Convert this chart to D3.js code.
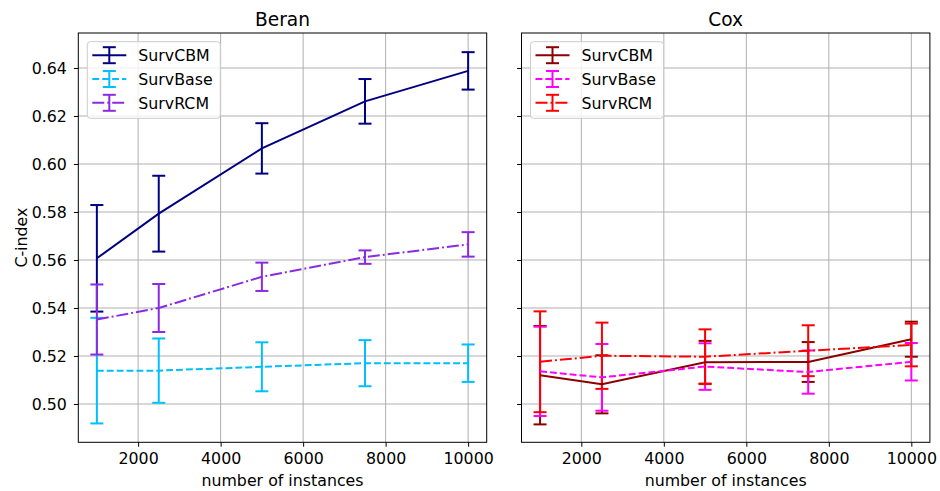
<!DOCTYPE html>
<html>
<head>
<meta charset="utf-8">
<script src="https://cdn.jsdelivr.net/npm/d3@7"></script>
<style>
  html, body { margin: 0; padding: 0; background: #fff; }
  svg { display: block; font-family: "DejaVu Sans", sans-serif; }
</style>
</head>
<body>
<svg id="chart" width="940" height="491"></svg>
<script>
// ---------- data ----------
const sizes = [1000, 2500, 5000, 7500, 10000];
const seriesNames = ["SurvCBM", "SurvBase", "SurvRCM"];
const panelTitles = ["Beran", "Cox"];

const beranCBM     = [0.5607, 0.5793, 0.6065, 0.6261, 0.6388];
const beranCBMErr  = [0.0222, 0.0158, 0.0105, 0.0093, 0.0078];
const beranBase    = [0.5139, 0.5139, 0.5155, 0.5170, 0.5170];
const beranBaseErr = [0.0220, 0.0134, 0.0102, 0.0096, 0.0078];
const beranRCM     = [0.5352, 0.5400, 0.5530, 0.5612, 0.5665];
const beranRCMErr  = [0.0146, 0.0100, 0.0059, 0.0028, 0.0051];

const coxCBM       = [0.5120, 0.5082, 0.5174, 0.5175, 0.5270];
const coxCBMErr    = [0.0205, 0.0121, 0.0089, 0.0083, 0.0073];
const coxBase      = [0.5136, 0.5111, 0.5156, 0.5133, 0.5176];
const coxBaseErr   = [0.0186, 0.0139, 0.0097, 0.0090, 0.0078];
const coxRCM       = [0.5176, 0.5201, 0.5197, 0.5222, 0.5246];
const coxRCMErr    = [0.0210, 0.0138, 0.0114, 0.0106, 0.0089];

const xTicks = [2000, 4000, 6000, 8000, 10000];
const yTicks = [0.50, 0.52, 0.54, 0.56, 0.58, 0.60, 0.62, 0.64];

// ---------- styles ----------
const beranColors = ["#000080", "#00BFFF", "#8A2BE2"];
const coxColors   = ["#8B0000", "#FF00FF", "#FF0000"];
const dashes = [null, "6.9,3", "12,3,1.9,3"];

const panels = [
  { title: panelTitles[0], x0: 78.3, colors: beranColors,
    series: [[beranCBM, beranCBMErr], [beranBase, beranBaseErr], [beranRCM, beranRCMErr]], yLabels: true },
  { title: panelTitles[1], x0: 521.5, colors: coxColors,
    series: [[coxCBM, coxCBMErr], [coxBase, coxBaseErr], [coxRCM, coxRCMErr]], yLabels: false }
];

const W = 408.4, yTop = 33, yBot = 442.3;
const fontSize = 15.8;
const svg = d3.select("#chart");

const y = d3.scaleLinear().domain([0.48404, 0.65458]).range([yBot, yTop]);

panels.forEach(p => {
  const x = d3.scaleLinear().domain([550, 10450]).range([p.x0, p.x0 + W]);
  const g = svg.append("g");

  // grid
  g.append("g").selectAll("line").data(xTicks).join("line")
    .attr("x1", d => x(d)).attr("x2", d => x(d)).attr("y1", yTop).attr("y2", yBot)
    .attr("stroke", "#b0b0b0").attr("stroke-width", 1);
  g.append("g").selectAll("line").data(yTicks).join("line")
    .attr("x1", p.x0).attr("x2", p.x0 + W).attr("y1", d => y(d)).attr("y2", d => y(d))
    .attr("stroke", "#b0b0b0").attr("stroke-width", 1);

  // axes
  const xAxis = d3.axisBottom(x).tickValues(xTicks).tickSize(4.4).tickPadding(6).tickFormat(d3.format("d"));
  const xa = g.append("g").attr("transform", `translate(0,${yBot})`).call(xAxis);
  xa.select(".domain").remove();
  xa.selectAll("text").attr("font-size", fontSize).attr("font-family", "DejaVu Sans").attr("fill", "#000");
  xa.selectAll("line").attr("stroke", "#000");

  const yAxis = d3.axisLeft(y).tickValues(yTicks).tickSize(4.4).tickPadding(7)
    .tickFormat(p.yLabels ? d3.format(".2f") : () => "");
  const ya = g.append("g").attr("transform", `translate(${p.x0},0)`).call(yAxis);
  ya.select(".domain").remove();
  ya.selectAll("text").attr("font-size", fontSize).attr("font-family", "DejaVu Sans").attr("fill", "#000");
  ya.selectAll("line").attr("stroke", "#000");

  // error bars (drawn first, below data lines)
  const cap = 6.5;
  p.series.forEach((s, si) => {
    const [vals, errs] = s;
    const col = p.colors[si];
    const eg = g.append("g");
    sizes.forEach((sz, i) => {
      const cx = x(sz), yl = y(vals[i] - errs[i]), yh = y(vals[i] + errs[i]);
      eg.append("line").attr("x1", cx).attr("x2", cx).attr("y1", yl).attr("y2", yh)
        .attr("stroke", col).attr("stroke-width", 2);
      [yl, yh].forEach(cy => eg.append("line").attr("x1", cx - cap).attr("x2", cx + cap)
        .attr("y1", cy).attr("y2", cy).attr("stroke", col).attr("stroke-width", 2));
    });
  });
  // data lines
  p.series.forEach((s, si) => {
    const [vals] = s;
    const line = d3.line().x((d, i) => x(sizes[i])).y(d => y(d));
    g.append("path").datum(vals).attr("d", line).attr("fill", "none")
      .attr("stroke", p.colors[si]).attr("stroke-width", 2)
      .attr("stroke-dasharray", dashes[si]);
  });

  // spines
  g.append("rect").attr("x", p.x0).attr("y", yTop).attr("width", W).attr("height", yBot - yTop)
    .attr("fill", "none").attr("stroke", "#000").attr("stroke-width", 1);

  // title
  g.append("text").attr("x", p.x0 + W / 2).attr("y", 26).attr("text-anchor", "middle")
    .attr("font-size", 18.6).text(p.title);

  // x label
  g.append("text").attr("x", p.x0 + W / 2).attr("y", 485.5).attr("text-anchor", "middle")
    .attr("font-size", fontSize).text("number of instances");

  // legend
  const lx = p.x0 + 9, ly = yTop + 8.7;
  const lg = g.append("g");
  lg.append("rect").attr("x", lx).attr("y", ly).attr("width", 133).attr("height", 76.6)
    .attr("rx", 3).attr("fill", "#fff").attr("fill-opacity", 0.8)
    .attr("stroke", "#cccccc").attr("stroke-width", 1);
  seriesNames.forEach((name, i) => {
    const cy = ly + 13.5 + 23.8 * i;
    const col = p.colors[i];
    const hx0 = lx + 5, hx1 = lx + 39, hc = (hx0 + hx1) / 2;
    lg.append("line").attr("x1", hx0).attr("x2", hx1).attr("y1", cy).attr("y2", cy)
      .attr("stroke", col).attr("stroke-width", 2).attr("stroke-dasharray", dashes[i]);
    lg.append("line").attr("x1", hc).attr("x2", hc).attr("y1", cy - 8).attr("y2", cy + 8)
      .attr("stroke", col).attr("stroke-width", 2);
    [cy - 8, cy + 8].forEach(v => lg.append("line").attr("x1", hc - 6.5).attr("x2", hc + 6.5)
      .attr("y1", v).attr("y2", v).attr("stroke", col).attr("stroke-width", 2));
    lg.append("text").attr("x", lx + 51).attr("y", cy + 5.7).attr("font-size", fontSize).text(name);
  });
});

// y label
svg.append("text").attr("transform", `translate(26.5,${(yTop + yBot) / 2}) rotate(-90)`)
  .attr("text-anchor", "middle").attr("font-size", fontSize).text("C-index");
</script>
</body>
</html>
